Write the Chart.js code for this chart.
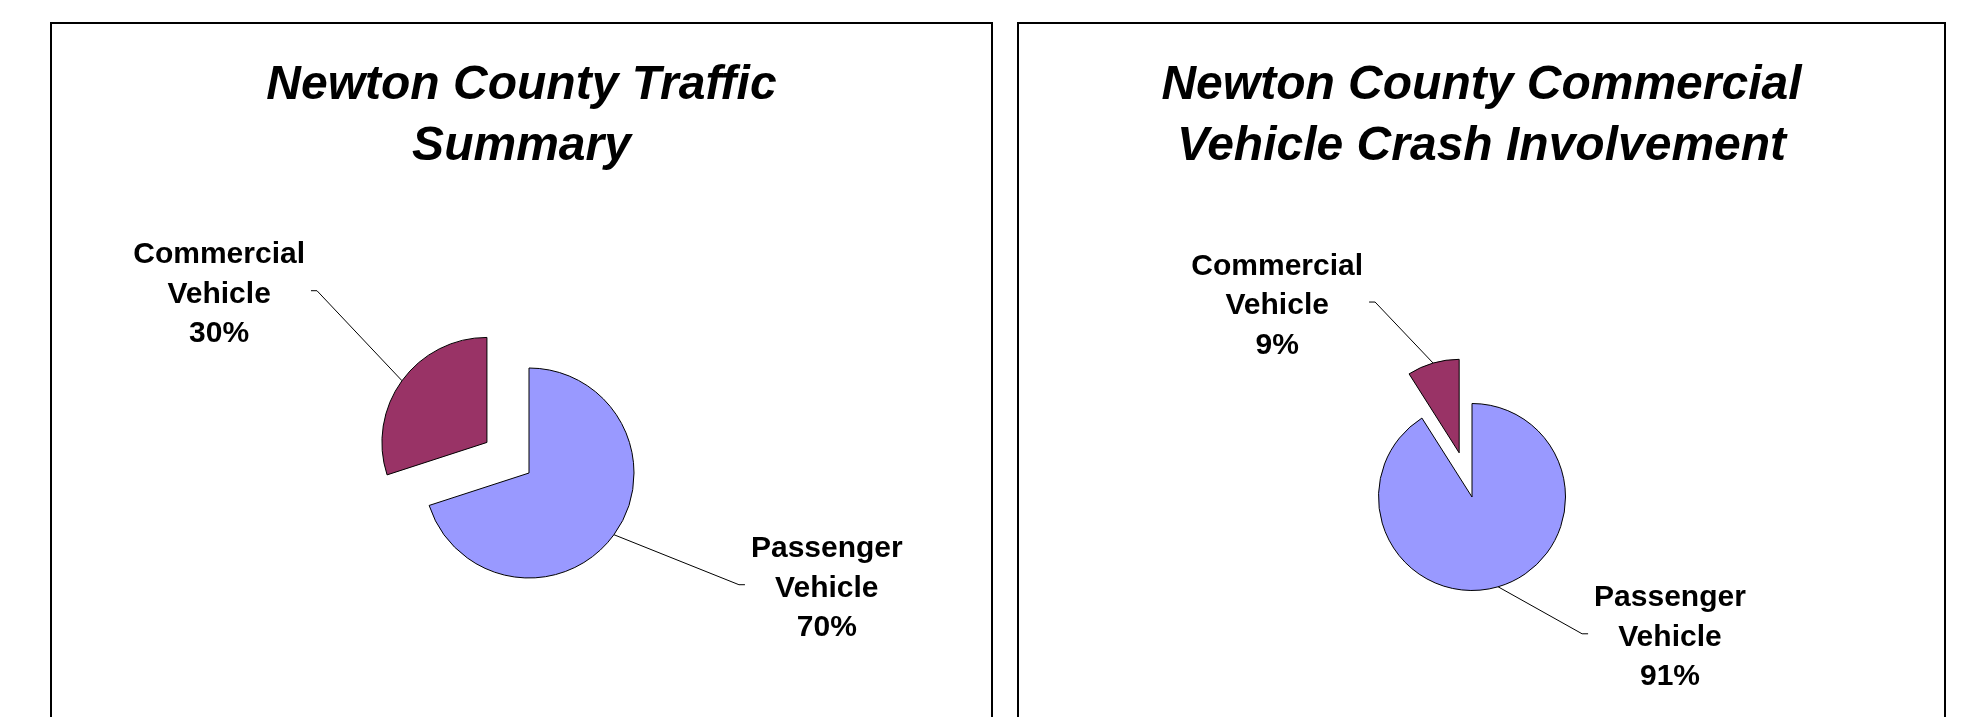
<!DOCTYPE html>
<html>
<head>
<meta charset="utf-8">
<script src="https://cdn.jsdelivr.net/npm/chart.js@4.4.1/dist/chart.umd.min.js"></script>
<style>
    html, body { margin: 0; padding: 0; background: #fff; overflow: hidden; }
    body { width: 1970px; height: 717px; position: relative; }
    .panel { position: absolute; top: 22px; height: 720px; border: 2px solid #000; box-sizing: border-box; background: #fff; }
    .chart-box { position: absolute; left: 0; top: 0; width: 100%; height: 716px; }
    .chart-title {
        position: absolute; left: 0; right: 0; top: 28px; margin: 0;
        text-align: center; color: #000;
        font-family: "Liberation Sans", Arial, sans-serif; font-style: italic; font-weight: bold;
        font-size: 48px; line-height: 61px;
    }
</style>
</head>
<body>
<div class="panel" style="left:50px; width:943px;">
    <div class="chart-box"><canvas id="trafficChart"></canvas></div>
    <h2 class="chart-title" id="title-traffic"></h2>
</div>
<div class="panel" style="left:1017px; width:929px;">
    <div class="chart-box"><canvas id="crashChart"></canvas></div>
    <h2 class="chart-title" id="title-crash"></h2>
</div>

<script>
// ── Data ──
const sliceLabels = ['Passenger Vehicle', 'Commercial Vehicle'];
const sliceColors = ['#9999FF', '#993366'];
const trafficShare = [70, 30];
const crashShare = [91, 9];
const trafficTitle = ['Newton County Traffic', 'Summary'];
const crashTitle = ['Newton County Commercial', 'Vehicle Crash Involvement'];

document.getElementById('title-traffic').innerHTML = trafficTitle.join('<br>');
document.getElementById('title-crash').innerHTML = crashTitle.join('<br>');

// ── Plugin: exploded slices + Excel-style callout labels ──
const calloutPlugin = {
    id: 'callouts',
    afterDatasetUpdate(chart, args, opts) {
        const explode = opts.explode || [];
        args.meta.data.forEach((arc, i) => {
            const d = explode[i] || 0;
            if (!d) return;
            const mid = (arc.startAngle + arc.endAngle) / 2;
            arc.x += Math.cos(mid) * d;
            arc.y += Math.sin(mid) * d;
        });
    },
    afterDatasetsDraw(chart, args, opts) {
        const ctx = chart.ctx;
        const meta = chart.getDatasetMeta(0);
        const values = chart.data.datasets[0].data;
        const total = values.reduce((a, b) => a + b, 0);

        ctx.save();
        ctx.font = opts.font;
        ctx.fillStyle = '#000';
        ctx.strokeStyle = '#000';
        ctx.lineWidth = 1;
        ctx.textAlign = 'center';
        ctx.textBaseline = 'alphabetic';

        meta.data.forEach((arc, i) => {
            const mid = (arc.startAngle + arc.endAngle) / 2;
            const ax = arc.x + Math.cos(mid) * arc.outerRadius;
            const ay = arc.y + Math.sin(mid) * arc.outerRadius;
            const [dx, dy] = opts.elbows[i];
            const ex = ax + dx, ey = ay + dy;
            const side = dx < 0 ? -1 : 1;
            const hx = ex + side * opts.tail;

            ctx.beginPath();
            ctx.moveTo(ax, ay);
            ctx.lineTo(ex, ey);
            ctx.lineTo(hx, ey);
            ctx.stroke();

            const pct = Math.round(values[i] / total * 100) + '%';
            const lines = chart.data.labels[i].split(' ').concat(pct);
            const w = Math.max(...lines.map(t => ctx.measureText(t).width));
            const cx = side < 0 ? hx - opts.gap - w / 2 : hx + opts.gap + w / 2;
            const midBase = ey + opts.baselineShift;
            lines.forEach((t, k) => ctx.fillText(t, cx, midBase + (k - 1) * opts.lineHeight));
        });
        ctx.restore();
    }
};

function makePie(canvasId, values, padding, radius, callouts) {
    return new Chart(document.getElementById(canvasId), {
        type: 'pie',
        data: {
            labels: sliceLabels,
            datasets: [{
                data: values,
                backgroundColor: sliceColors,
                borderColor: '#000',
                borderWidth: 1
            }]
        },
        options: {
            responsive: true,
            maintainAspectRatio: false,
            animation: false,
            events: [],
            radius: radius,
            layout: { padding },
            plugins: {
                legend: { display: false },
                tooltip: { enabled: false },
                callouts: Object.assign({
                    font: 'bold 30px "Liberation Sans", Arial, sans-serif',
                    lineHeight: 39.5,
                    baselineShift: 12,
                    tail: 6,
                    gap: 6
                }, callouts)
            }
        },
        plugins: [calloutPlugin]
    });
}

makePie('trafficChart', trafficShare,
    { left: 15, right: 0, top: 182, bottom: 0 }, 105,
    { explode: [0, 52], elbows: [[125, 50], [-85, -90]] });

makePie('crashChart', crashShare,
    { left: 0, right: 19, top: 230, bottom: 0 }, 93.5,
    { explode: [0, 46], elbows: [[84, 47], [-58, -61]] });
</script>
</body>
</html>
